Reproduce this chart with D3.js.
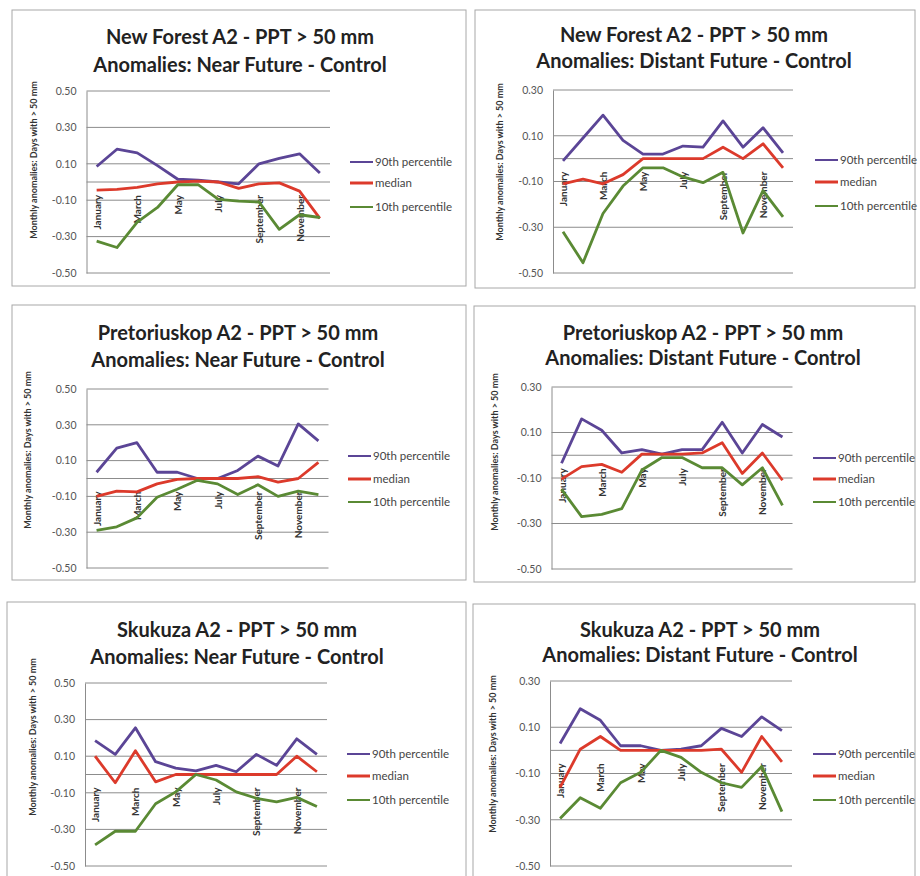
<!DOCTYPE html>
<html>
<head>
<meta charset="utf-8">
<script src="https://cdn.jsdelivr.net/npm/d3@7"></script>
<style>
  body { margin: 0; background: #fff; }
  text { font-family: Lato, "Open Sans", sans-serif; }
</style>
</head>
<body>
<svg id="chart" width="920" height="876"></svg>
<script>
// ---- categories, labels and tick values ----
const months = ["January", "February", "March", "April", "May", "June",
                "July", "August", "September", "October", "November", "December"];
const labelledMonths = ["January", "March", "May", "July", "September", "November"];
const seriesNames = ["90th percentile", "median", "10th percentile"];
const ticksNear = [0.5, 0.3, 0.1, -0.1, -0.3, -0.5];
const ticksDistant = [0.3, 0.1, -0.1, -0.3, -0.5];
const stationTitles = ["New Forest A2 - PPT > 50 mm", "New Forest A2 - PPT > 50 mm",
                       "Pretoriuskop A2 - PPT > 50 mm", "Pretoriuskop A2 - PPT > 50 mm",
                       "Skukuza A2 - PPT > 50 mm", "Skukuza A2 - PPT > 50 mm"];
const periodTitles = ["Anomalies: Near Future - Control", "Anomalies: Distant Future - Control",
                      "Anomalies: Near Future - Control", "Anomalies: Distant Future - Control",
                      "Anomalies: Near Future - Control", "Anomalies: Distant Future - Control"];
const yAxisTitle = "Monthly anomalies: Days with > 50 mm";

// ---- monthly anomalies (days with > 50 mm) ----
const newForestNearP90 = [0.085, 0.18, 0.16, 0.09, 0.015, 0.01, 0.0, -0.01, 0.10, 0.13, 0.155, 0.05];
const newForestNearMed = [-0.045, -0.04, -0.03, -0.01, 0.0, 0.005, 0.0, -0.035, -0.01, -0.005, -0.05, -0.2];
const newForestNearP10 = [-0.325, -0.36, -0.22, -0.14, -0.015, -0.015, -0.095, -0.105, -0.11, -0.26, -0.18, -0.195];

const newForestFarP90 = [-0.01, 0.09, 0.19, 0.08, 0.02, 0.02, 0.055, 0.05, 0.165, 0.05, 0.135, 0.025];
const newForestFarMed = [-0.11, -0.09, -0.11, -0.07, 0.0, 0.0, 0.0, 0.0, 0.05, 0.0, 0.065, -0.04];
const newForestFarP10 = [-0.32, -0.455, -0.24, -0.12, -0.04, -0.04, -0.08, -0.105, -0.06, -0.325, -0.14, -0.255];

const pretoriuskopNearP90 = [0.035, 0.17, 0.2, 0.035, 0.035, 0.0, 0.0, 0.045, 0.125, 0.07, 0.305, 0.21];
const pretoriuskopNearMed = [-0.1, -0.07, -0.075, -0.03, -0.005, 0.0, 0.0, 0.0, 0.01, -0.02, 0.0, 0.09];
const pretoriuskopNearP10 = [-0.29, -0.27, -0.22, -0.105, -0.06, -0.01, -0.03, -0.09, -0.035, -0.1, -0.07, -0.09];

const pretoriuskopFarP90 = [-0.035, 0.16, 0.11, 0.01, 0.025, 0.005, 0.025, 0.025, 0.145, 0.01, 0.135, 0.08];
const pretoriuskopFarMed = [-0.105, -0.05, -0.04, -0.075, 0.005, 0.005, 0.005, 0.01, 0.055, -0.08, 0.01, -0.11];
const pretoriuskopFarP10 = [-0.15, -0.27, -0.26, -0.235, -0.065, -0.01, -0.01, -0.055, -0.055, -0.13, -0.055, -0.22];

const skukuzaNearP90 = [0.185, 0.11, 0.255, 0.07, 0.035, 0.02, 0.05, 0.015, 0.11, 0.05, 0.195, 0.11];
const skukuzaNearMed = [0.1, -0.045, 0.13, -0.04, 0.0, 0.0, 0.0, 0.0, 0.0, 0.0, 0.1, 0.015];
const skukuzaNearP10 = [-0.385, -0.31, -0.31, -0.16, -0.095, 0.0, -0.03, -0.095, -0.13, -0.15, -0.125, -0.175];

const skukuzaFarP90 = [0.03, 0.18, 0.13, 0.02, 0.02, 0.0, 0.005, 0.02, 0.095, 0.06, 0.145, 0.085];
const skukuzaFarMed = [-0.16, 0.005, 0.06, 0.0, 0.0, 0.0, 0.0, 0.0, 0.005, -0.095, 0.06, -0.05];
const skukuzaFarP10 = [-0.295, -0.205, -0.25, -0.14, -0.095, 0.0, -0.03, -0.095, -0.14, -0.16, -0.07, -0.265];

// ---- panels: data and value axis per chart ----
const panels = [
  { series: [newForestNearP90, newForestNearMed, newForestNearP10], ticks: ticksNear },
  { series: [newForestFarP90, newForestFarMed, newForestFarP10], ticks: ticksDistant },
  { series: [pretoriuskopNearP90, pretoriuskopNearMed, pretoriuskopNearP10], ticks: ticksNear },
  { series: [pretoriuskopFarP90, pretoriuskopFarMed, pretoriuskopFarP10], ticks: ticksDistant },
  { series: [skukuzaNearP90, skukuzaNearMed, skukuzaNearP10], ticks: ticksNear },
  { series: [skukuzaFarP90, skukuzaFarMed, skukuzaFarP10], ticks: ticksDistant }
];

// ---- page geometry of each chart ----
const layout = [
  { box: [12, 10, 466, 286], xr: [86.5, 330], yr: [273, 91],   tx: 240, t1: 44,  t2: 72,  lx: 350, ly: [162, 183, 207], ax: 34,  ay: 160 },
  { box: [475, 10, 915, 288], xr: [553, 793], yr: [273, 90],   tx: 694, t1: 42,  t2: 68,  lx: 815, ly: [160, 182, 206], ax: 500, ay: 162 },
  { box: [12, 305, 466, 580], xr: [86.5, 328.5], yr: [568, 389], tx: 238, t1: 340, t2: 367, lx: 348, ly: [456, 479, 502], ax: 28,  ay: 450 },
  { box: [474, 306, 915, 582], xr: [551.5, 792.5], yr: [569, 387], tx: 703, t1: 340, t2: 365, lx: 813, ly: [458, 479, 502], ax: 495, ay: 452 },
  { box: [7, 602, 466, 880], xr: [85, 327], yr: [866, 683],   tx: 237, t1: 637, t2: 664, lx: 347, ly: [754, 776, 800], ax: 33,  ay: 737 },
  { box: [473, 604, 915, 880], xr: [550, 792], yr: [866, 681], tx: 700, t1: 637, t2: 662, lx: 813, ly: [754, 776, 800], ax: 493, ay: 754 }
];

const colors = ["#5b4596", "#dc3a2b", "#5a8a34"];
const gridColor = "#8c8c8c";
const fmt = d => d.toFixed(2);

const svg = d3.select("#chart");

panels.forEach((p, i) => {
  const L = layout[i];
  const g = svg.append("g");

  // chart-area frame
  g.append("rect")
    .attr("x", L.box[0]).attr("y", L.box[1])
    .attr("width", L.box[2] - L.box[0]).attr("height", L.box[3] - L.box[1])
    .attr("fill", "none").attr("stroke", "#a8a8a8").attr("stroke-width", 1);

  const x = d3.scalePoint().domain(months).range(L.xr).padding(0.5);
  const y = d3.scaleLinear().domain([d3.min(p.ticks), d3.max(p.ticks)]).range(L.yr);

  // horizontal gridlines
  g.append("g").selectAll("line").data(p.ticks).join("line")
    .attr("x1", L.xr[0]).attr("x2", L.xr[1])
    .attr("y1", d => y(d)).attr("y2", d => y(d))
    .attr("stroke", gridColor).attr("stroke-width", 1);

  // value axis
  const yAxis = g.append("g")
    .attr("transform", `translate(${L.xr[0]},0)`)
    .call(d3.axisLeft(y).tickValues(p.ticks).tickFormat(fmt).tickSize(0).tickPadding(10));
  yAxis.select(".domain").attr("stroke", gridColor);
  yAxis.selectAll("text")
    .attr("fill", "#555").style("font-size", "10.5px");

  // category axis crossing at zero
  const xAxis = g.append("g")
    .attr("transform", `translate(0,${y(0)})`)
    .call(d3.axisBottom(x).tickValues(labelledMonths).tickSize(0));
  xAxis.select(".domain").attr("stroke", gridColor).attr("d", `M${L.xr[0]},0H${L.xr[1]}`);
  xAxis.selectAll("text")
    .attr("transform", "rotate(-90)")
    .attr("x", -13).attr("y", 0).attr("dy", "0.35em")
    .style("text-anchor", "end")
    .style("font-size", "10px").style("font-weight", "bold")
    .attr("fill", "#333");

  // series lines
  const line = d3.line().x((d, k) => x(months[k])).y(d => y(d));
  g.append("g").selectAll("path").data(p.series).join("path")
    .attr("d", line)
    .attr("fill", "none")
    .attr("stroke", (d, k) => colors[k])
    .attr("stroke-width", 2.8)
    .attr("stroke-linejoin", "round");

  // titles
  g.append("text").attr("x", L.tx).attr("y", L.t1).attr("text-anchor", "middle")
    .style("font-size", "20px").style("font-weight", "bold").attr("fill", "#222")
    .text(stationTitles[i]);
  g.append("text").attr("x", L.tx).attr("y", L.t2).attr("text-anchor", "middle")
    .style("font-size", "20px").style("font-weight", "bold").attr("fill", "#222")
    .text(periodTitles[i]);

  // value-axis title
  g.append("text")
    .attr("transform", `translate(${L.ax},${L.ay}) rotate(-90)`)
    .attr("text-anchor", "middle").attr("dy", "0.35em")
    .style("font-size", "9px").style("font-weight", "bold").attr("fill", "#333")
    .text(yAxisTitle);

  // legend
  const leg = g.append("g").selectAll("g").data(seriesNames).join("g")
    .attr("transform", (d, k) => `translate(${L.lx},${L.ly[k]})`);
  leg.append("line").attr("x1", 0).attr("x2", 23)
    .attr("stroke", (d, k) => colors[k])
    .attr("stroke-width", (d, k) => k === 1 ? 3 : 2);
  leg.append("text").attr("x", 25).attr("dy", "0.35em")
    .style("font-size", "11.5px").attr("fill", "#444")
    .text(d => d);
});
</script>
</body>
</html>
